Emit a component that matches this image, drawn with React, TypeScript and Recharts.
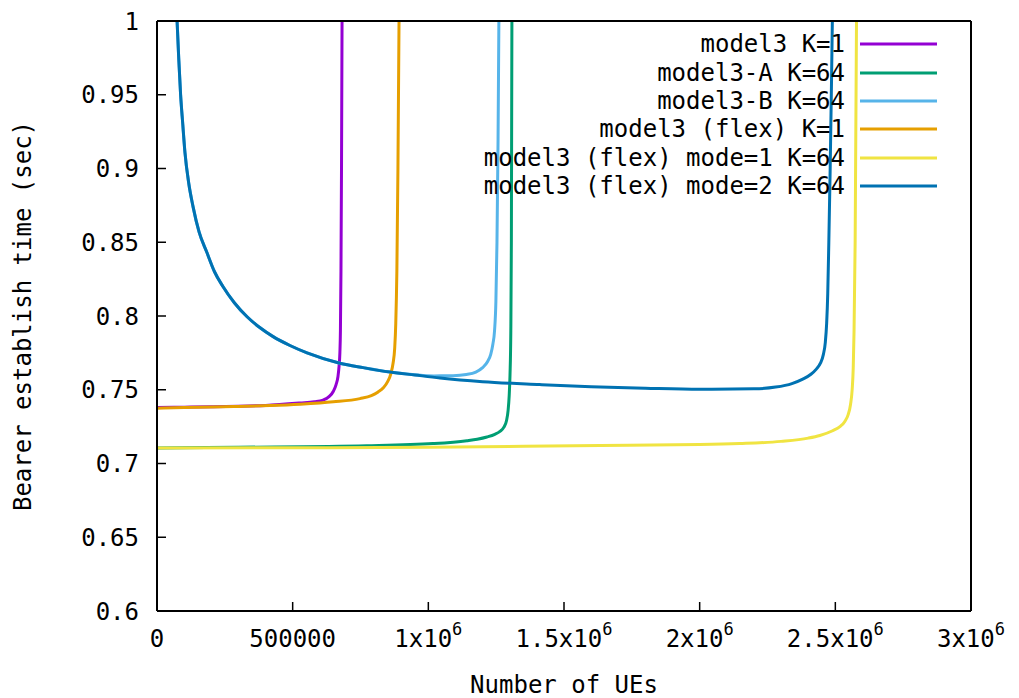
import { LineChart, Line, XAxis, YAxis, Legend, Label } from "recharts";

const FONT = "'DejaVu Sans Mono', monospace";

// [number of UEs, bearer establish time (sec)]
const model3K1: [number, number][] = [
  [0, 0.738], [100000, 0.7382], [200000, 0.7385], [300000, 0.7388], [400000, 0.7394],
  [527000, 0.741], [580000, 0.7418], [612000, 0.743], [635000, 0.7455], [650000, 0.749],
  [660000, 0.7535], [667000, 0.759], [671000, 0.766], [674000, 0.775], [676000, 0.79],
  [678000, 0.83], [680000, 0.9], [682000, 1.0],
];

const model3AK64: [number, number][] = [
  [0, 0.7105], [300000, 0.711], [773000, 0.712], [1017000, 0.7135], [1142000, 0.7155],
  [1180000, 0.7165], [1216000, 0.718], [1245000, 0.7198], [1264000, 0.7218], [1278000, 0.7245],
  [1288000, 0.729], [1294000, 0.736], [1298000, 0.746], [1301000, 0.76], [1304000, 0.79],
  [1306000, 0.85], [1308000, 1.0],
];

const model3BK64: [number, number][] = [
  [74000, 1.0], [80000, 0.975], [87000, 0.95], [95000, 0.93], [103000, 0.911],
  [117000, 0.89], [133000, 0.874], [155000, 0.857], [184000, 0.843], [212000, 0.83],
  [243000, 0.82], [285000, 0.809], [332000, 0.7995], [380000, 0.792], [428000, 0.786],
  [490000, 0.78], [553000, 0.775], [674000, 0.768], [760000, 0.765], [859000, 0.762],
  [950000, 0.7602], [1020000, 0.7594], [1091000, 0.7595], [1140000, 0.7603], [1175000, 0.762],
  [1200000, 0.765], [1218000, 0.769], [1230000, 0.774], [1238000, 0.781], [1244000, 0.79],
  [1249000, 0.81], [1253000, 0.85], [1257000, 0.92], [1260000, 1.0],
];

const flexK1: [number, number][] = [
  [0, 0.7375], [100000, 0.738], [200000, 0.7383], [300000, 0.7387], [416000, 0.7393],
  [527000, 0.7402], [650000, 0.7418], [748000, 0.744], [790000, 0.746], [815000, 0.7485],
  [835000, 0.7515], [850000, 0.7555], [862000, 0.761], [870000, 0.768], [876000, 0.778],
  [880000, 0.795], [884000, 0.83], [888000, 0.9], [892000, 1.0],
];

const flexMode1K64: [number, number][] = [
  [0, 0.7105], [500000, 0.7107], [1000000, 0.711], [1633000, 0.7122], [2000000, 0.7128],
  [2148000, 0.7135], [2300000, 0.715], [2400000, 0.7172], [2443000, 0.719], [2490000, 0.7222],
  [2517000, 0.725], [2535000, 0.7285], [2547000, 0.733], [2556000, 0.74], [2562000, 0.75],
  [2566000, 0.765], [2569000, 0.79], [2573000, 0.85], [2578000, 1.0],
];

const flexMode2K64: [number, number][] = [
  [74000, 1.0], [80000, 0.975], [87000, 0.95], [95000, 0.93], [103000, 0.911],
  [117000, 0.89], [133000, 0.874], [155000, 0.857], [184000, 0.843], [212000, 0.83],
  [243000, 0.82], [285000, 0.809], [332000, 0.7995], [380000, 0.792], [428000, 0.786],
  [490000, 0.78], [553000, 0.775], [674000, 0.768], [760000, 0.765], [859000, 0.762],
  [950000, 0.76], [1043000, 0.758], [1200000, 0.7555], [1410000, 0.7535], [1600000, 0.752],
  [1800000, 0.751], [2000000, 0.7503], [2200000, 0.7506], [2280000, 0.7518], [2340000, 0.7542],
  [2380000, 0.7572], [2410000, 0.7605], [2430000, 0.764], [2445000, 0.768], [2456000, 0.774],
  [2463000, 0.782], [2468000, 0.795], [2472000, 0.815], [2476000, 0.85], [2481000, 0.9],
  [2486000, 0.96], [2489000, 1.0],
];

const xTicks = [0, 500000, 1000000, 1500000, 2000000, 2500000, 3000000];
const yTicks = [0.6, 0.65, 0.7, 0.75, 0.8, 0.85, 0.9, 0.95, 1];

const series = [
  { name: "model3 K=1", color: "#9400d3", pts: model3K1 },
  { name: "model3-A K=64", color: "#009e73", pts: model3AK64 },
  { name: "model3-B K=64", color: "#56b4e9", pts: model3BK64 },
  { name: "model3 (flex) K=1", color: "#e69f00", pts: flexK1 },
  { name: "model3 (flex) mode=1 K=64", color: "#f0e442", pts: flexMode1K64 },
  { name: "model3 (flex) mode=2 K=64", color: "#0072b2", pts: flexMode2K64 },
];

const axisLine = { stroke: "#000", strokeWidth: 2 };
const tickLine = { stroke: "#000", strokeWidth: 1.5 };

function XTick(props: any) {
  const { x, y, payload } = props;
  const v = payload.value as number;
  return (
    <text x={x} y={y} dy="0.71em" textAnchor="middle" fill="#000" fontSize={24} fontFamily={FONT}>
      {v < 1000000 ? (
        String(v)
      ) : (
        <>
          <tspan>{`${v / 1000000}x10`}</tspan>
          <tspan dy={-12} fontSize={17}>6</tspan>
        </>
      )}
    </text>
  );
}

function LegendBox() {
  return (
    <div style={{ fontFamily: FONT, fontSize: 24, color: "#000" }}>
      {series.map((s) => (
        <div key={s.name} style={{ display: "flex", alignItems: "center", height: 28.4 }}>
          <span style={{ width: 845, textAlign: "right", whiteSpace: "pre", lineHeight: "28px" }}>{s.name}</span>
          <svg width={77} height={6} style={{ marginLeft: 15 }}>
            <line x1={0} x2={77} y1={3} y2={3} stroke={s.color} strokeWidth={3} />
          </svg>
        </div>
      ))}
    </div>
  );
}

export default function App() {
  return (
    <div style={{ position: "absolute", left: 0, top: 0, width: 1019, height: 698, background: "#fff" }}>
      <LineChart width={1019} height={698} margin={{ top: 20, right: 47, bottom: 0, left: 0 }}>
        <XAxis
          type="number"
          dataKey="x"
          domain={[0, 3000000]}
          ticks={xTicks}
          interval={0}
          allowDataOverflow
          height={87}
          tickSize={-9}
          tickMargin={28}
          tick={(p: any) => <XTick {...p} />}
          axisLine={axisLine}
          tickLine={tickLine}
        >
          <Label value="Number of UEs" position="insideBottom" offset={5} style={{ fill: "#000", fontSize: 24, fontFamily: FONT }} />
        </XAxis>
        <XAxis
          xAxisId="top"
          orientation="top"
          type="number"
          domain={[0, 3000000]}
          ticks={xTicks}
          interval={0}
          height={1}
          tickSize={-9}
          tickFormatter={() => ""}
          axisLine={axisLine}
          tickLine={tickLine}
        />
        <YAxis
          type="number"
          domain={[0.6, 1]}
          ticks={yTicks}
          interval={0}
          allowDataOverflow
          width={157}
          tickSize={-9}
          tickMargin={27}
          tick={{ fill: "#000", fontSize: 24, fontFamily: FONT }}
          axisLine={axisLine}
          tickLine={tickLine}
        >
          <Label
            value="Bearer establish time (sec)"
            angle={-90}
            position="insideLeft"
            offset={22}
            style={{ fill: "#000", fontSize: 24, fontFamily: FONT, textAnchor: "middle" }}
          />
        </YAxis>
        <YAxis
          yAxisId="right"
          orientation="right"
          type="number"
          domain={[0.6, 1]}
          ticks={yTicks}
          interval={0}
          width={1}
          tickSize={-9}
          tickFormatter={() => ""}
          axisLine={axisLine}
          tickLine={tickLine}
        />
        <Legend
          layout="vertical"
          align="center"
          verticalAlign="middle"
          wrapperStyle={{ top: 30, left: 0, width: 1019, height: 171 }}
          content={() => <LegendBox />}
        />
        {series.map((s) => (
          <Line
            key={s.name}
            name={s.name}
            data={s.pts.map(([x, y]) => ({ x, y }))}
            dataKey="y"
            type="monotone"
            stroke={s.color}
            strokeWidth={3}
            dot={false}
            isAnimationActive={false}
          />
        ))}
      </LineChart>
    </div>
  );
}
